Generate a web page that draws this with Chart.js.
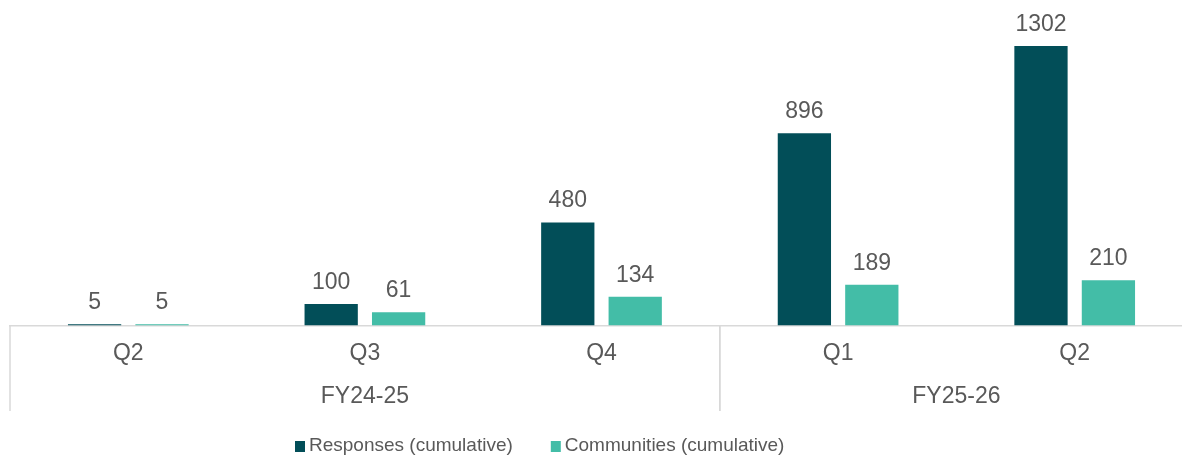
<!DOCTYPE html>
<html lang="en">
<head>
    <meta charset="UTF-8">
    <title>Responses and Communities (cumulative)</title>
    <script src="https://cdn.jsdelivr.net/npm/chart.js"></script>
    <style>
        * { margin: 0; padding: 0; box-sizing: border-box; }
        html, body { width: 1182px; height: 460px; overflow: hidden; background: #fff; }
        .wrap { position: relative; width: 1193px; height: 460px; }
    </style>
</head>
<body>
    <div class="wrap">
        <canvas id="chart"></canvas>
    </div>

    <script>
        // data
        const quarters = ['Q2', 'Q3', 'Q4', 'Q1', 'Q2'];
        const fiscalYears = ['FY24-25', 'FY24-25', 'FY24-25', 'FY25-26', 'FY25-26'];
        const responses = [5, 100, 480, 896, 1302];
        const communities = [5, 61, 134, 189, 210];

        const DARK = '#024e58';
        const LIGHT = '#43bda7';
        const TEXT = '#595959';
        const AXIS = '#d9d9d9';
        const FONT = '"Liberation Sans", Arial, sans-serif';

        // value labels, fiscal year groups and legend
        const extras = {
            id: 'extras',
            afterDraw(chart) {
                const ctx = chart.ctx;
                const x = chart.scales.x;
                const area = chart.chartArea;
                ctx.save();
                ctx.fillStyle = TEXT;

                // values above bars
                ctx.font = '23px ' + FONT;
                ctx.textAlign = 'center';
                ctx.textBaseline = 'alphabetic';
                chart.data.datasets.forEach((ds, i) => {
                    chart.getDatasetMeta(i).data.forEach((bar, j) => {
                        ctx.fillText(ds.data[j], bar.x, bar.y - 15);
                    });
                });

                // fiscal year groups
                const half = (x.getPixelForValue(1) - x.getPixelForValue(0)) / 2;
                ctx.strokeStyle = AXIS;
                ctx.lineWidth = 1.5;
                let start = 0;
                for (let i = 1; i <= fiscalYears.length; i++) {
                    if (i === fiscalYears.length || fiscalYears[i] !== fiscalYears[start]) {
                        const left = x.getPixelForValue(start) - half;
                        const right = x.getPixelForValue(i - 1) + half;
                        ctx.beginPath();
                        ctx.moveTo(left, area.bottom);
                        ctx.lineTo(left, 411);
                        ctx.moveTo(right, area.bottom);
                        ctx.lineTo(right, 411);
                        ctx.stroke();
                        ctx.textBaseline = 'middle';
                        ctx.fillText(fiscalYears[start], (left + right) / 2, 397);
                        start = i;
                    }
                }

                // legend
                ctx.font = '19px ' + FONT;
                ctx.textAlign = 'left';
                ctx.textBaseline = 'middle';
                let lx = 295;
                chart.data.datasets.forEach(ds => {
                    ctx.fillStyle = ds.backgroundColor;
                    ctx.fillRect(lx, 441, 10, 11);
                    ctx.fillStyle = TEXT;
                    ctx.fillText(ds.label, lx + 14, 446);
                    lx += 14 + ctx.measureText(ds.label).width + 38;
                });
                ctx.restore();
            }
        };

        new Chart(document.getElementById('chart'), {
            type: 'bar',
            data: {
                labels: quarters,
                datasets: [{
                    label: 'Responses (cumulative)',
                    data: responses,
                    backgroundColor: DARK
                }, {
                    label: 'Communities (cumulative)',
                    data: communities,
                    backgroundColor: LIGHT
                }]
            },
            options: {
                responsive: true,
                maintainAspectRatio: false,
                animation: false,
                categoryPercentage: 0.57,
                barPercentage: 0.79,
                layout: { padding: { top: 25, left: 10, right: 0, bottom: 79 } },
                plugins: {
                    legend: { display: false },
                    tooltip: { enabled: false }
                },
                scales: {
                    x: {
                        grid: { display: false, drawTicks: false },
                        border: { display: true, color: AXIS, width: 1.5 },
                        ticks: {
                            color: TEXT,
                            padding: 14,
                            font: { family: FONT, size: 23 }
                        }
                    },
                    y: {
                        display: false,
                        min: 0,
                        max: 1400
                    }
                }
            },
            plugins: [extras]
        });
    </script>
</body>
</html>
